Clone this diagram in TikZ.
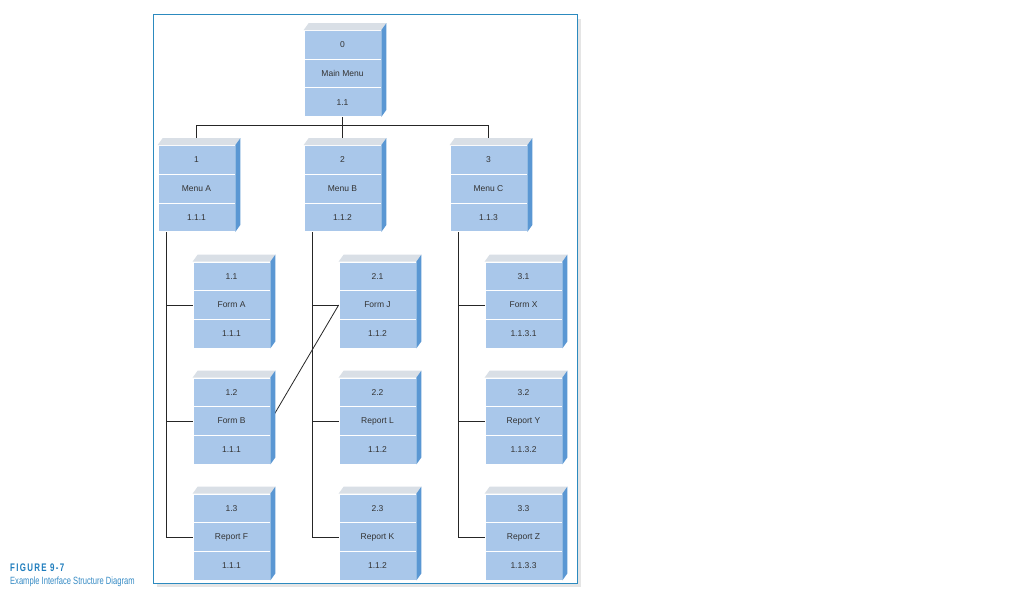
\documentclass[tikz,border=0pt]{standalone}
\usepackage{fontspec}
\setmainfont{Liberation Sans}
\newfontfamily\capfont[FakeStretch=0.72]{Liberation Sans}
\usetikzlibrary{calc, backgrounds}
\definecolor{isdFront}{HTML}{A9C7EA}
\definecolor{isdSide}{HTML}{5A97D3}
\definecolor{isdTop}{HTML}{D9DFE6}
\definecolor{isdFrame}{HTML}{2C8ABF}
\definecolor{isdCap}{HTML}{1F7DBD}
\definecolor{isdInk}{HTML}{333333}

% three-row block: name, x, y (middle row), top, middle, bottom text
\newcommand{\isdblock}[6]{%
  \node[cell] (#1-t) at (#2,#3-28.7) {#4};
  \node[cell] (#1)   at (#2,#3)      {#5};
  \node[cell] (#1-b) at (#2,#3+28.7) {#6};
  \fill[isdTop]  (#1-t.north west) -- ++(5,-7) -- ($(#1-t.north east)+(5,-7)$) -- (#1-t.north east) -- cycle;
  \fill[isdSide] (#1-t.north east) -- ++(5,-7) -- ($(#1-b.south east)+(5,-7)$) -- (#1-b.south east) -- cycle;
}

\begin{document}
\begin{tikzpicture}[
  x=1pt, y=-1pt,
  cell/.style={rectangle, fill=isdFront, draw=white, line width=0.7pt,
               minimum width=77pt, minimum height=28.7pt, inner sep=0pt,
               font=\fontsize{8.5}{9}\selectfont, text=isdInk},
  link/.style={draw=black!85, line width=0.8pt},
  capt/.style={anchor=base west, inner sep=0pt, text=isdCap},
]
\useasboundingbox (0,0) rectangle (1024,596);

% ---------------- frame ----------------
\begin{scope}[on background layer]
\fill[black!10] (157,19) rectangle (581,587);
\draw[isdFrame, fill=white, line width=1pt] (153,15) rectangle (577,583);
\end{scope}

% ---------------- level 0 / 1 ----------------
\isdblock{m0}{342.5}{73.5}{0}{Main Menu}{1.1}
\isdblock{ma}{196.5}{188.5}{1}{Menu A}{1.1.1}
\isdblock{mb}{342.5}{188.5}{2}{Menu B}{1.1.2}
\isdblock{mc}{488.5}{188.5}{3}{Menu C}{1.1.3}

% ---------------- level 2 ----------------
\isdblock{fa}{231.5}{305}{1.1}{Form A}{1.1.1}
\isdblock{fb}{231.5}{421}{1.2}{Form B}{1.1.1}
\isdblock{rf}{231.5}{537}{1.3}{Report F}{1.1.1}
\isdblock{fj}{377.5}{305}{2.1}{Form J}{1.1.2}
\isdblock{rl}{377.5}{421}{2.2}{Report L}{1.1.2}
\isdblock{rk}{377.5}{537}{2.3}{Report K}{1.1.2}
\isdblock{fx}{523.5}{305}{3.1}{Form X}{1.1.3.1}
\isdblock{ry}{523.5}{421}{3.2}{Report Y}{1.1.3.2}
\isdblock{rz}{523.5}{537}{3.3}{Report Z}{1.1.3.3}

% ---------------- connectors ----------------
\begin{scope}[on background layer]
\draw[link] (m0-b.south) -- ++(0,9) -| (ma-t.north);
\draw[link] (m0-b.south) -- ++(0,9) -| (mc-t.north);
\draw[link] (m0-b.south) -- (mb-t.north);
\foreach \p/\c in {ma/fa, ma/fb, ma/rf, mb/fj, mb/rl, mb/rk, mc/fx, mc/ry, mc/rz}
  \draw[link] ([xshift=9pt]\p-b.south west) |- (\c.west);
\draw[link] (fb.east) -- (fj.west);
\end{scope}

% ---------------- caption ----------------
\node[capt, font=\capfont\bfseries\addfontfeature{LetterSpace=12}\fontsize{11}{12}\selectfont] (fig) at (10,571) {FIGURE 9-7};
\node[capt, text=isdCap!90, font=\capfont\fontsize{10.5}{11}\selectfont] (figcap) at (10,584) {Example Interface Structure Diagram};
\end{tikzpicture}
\end{document}
